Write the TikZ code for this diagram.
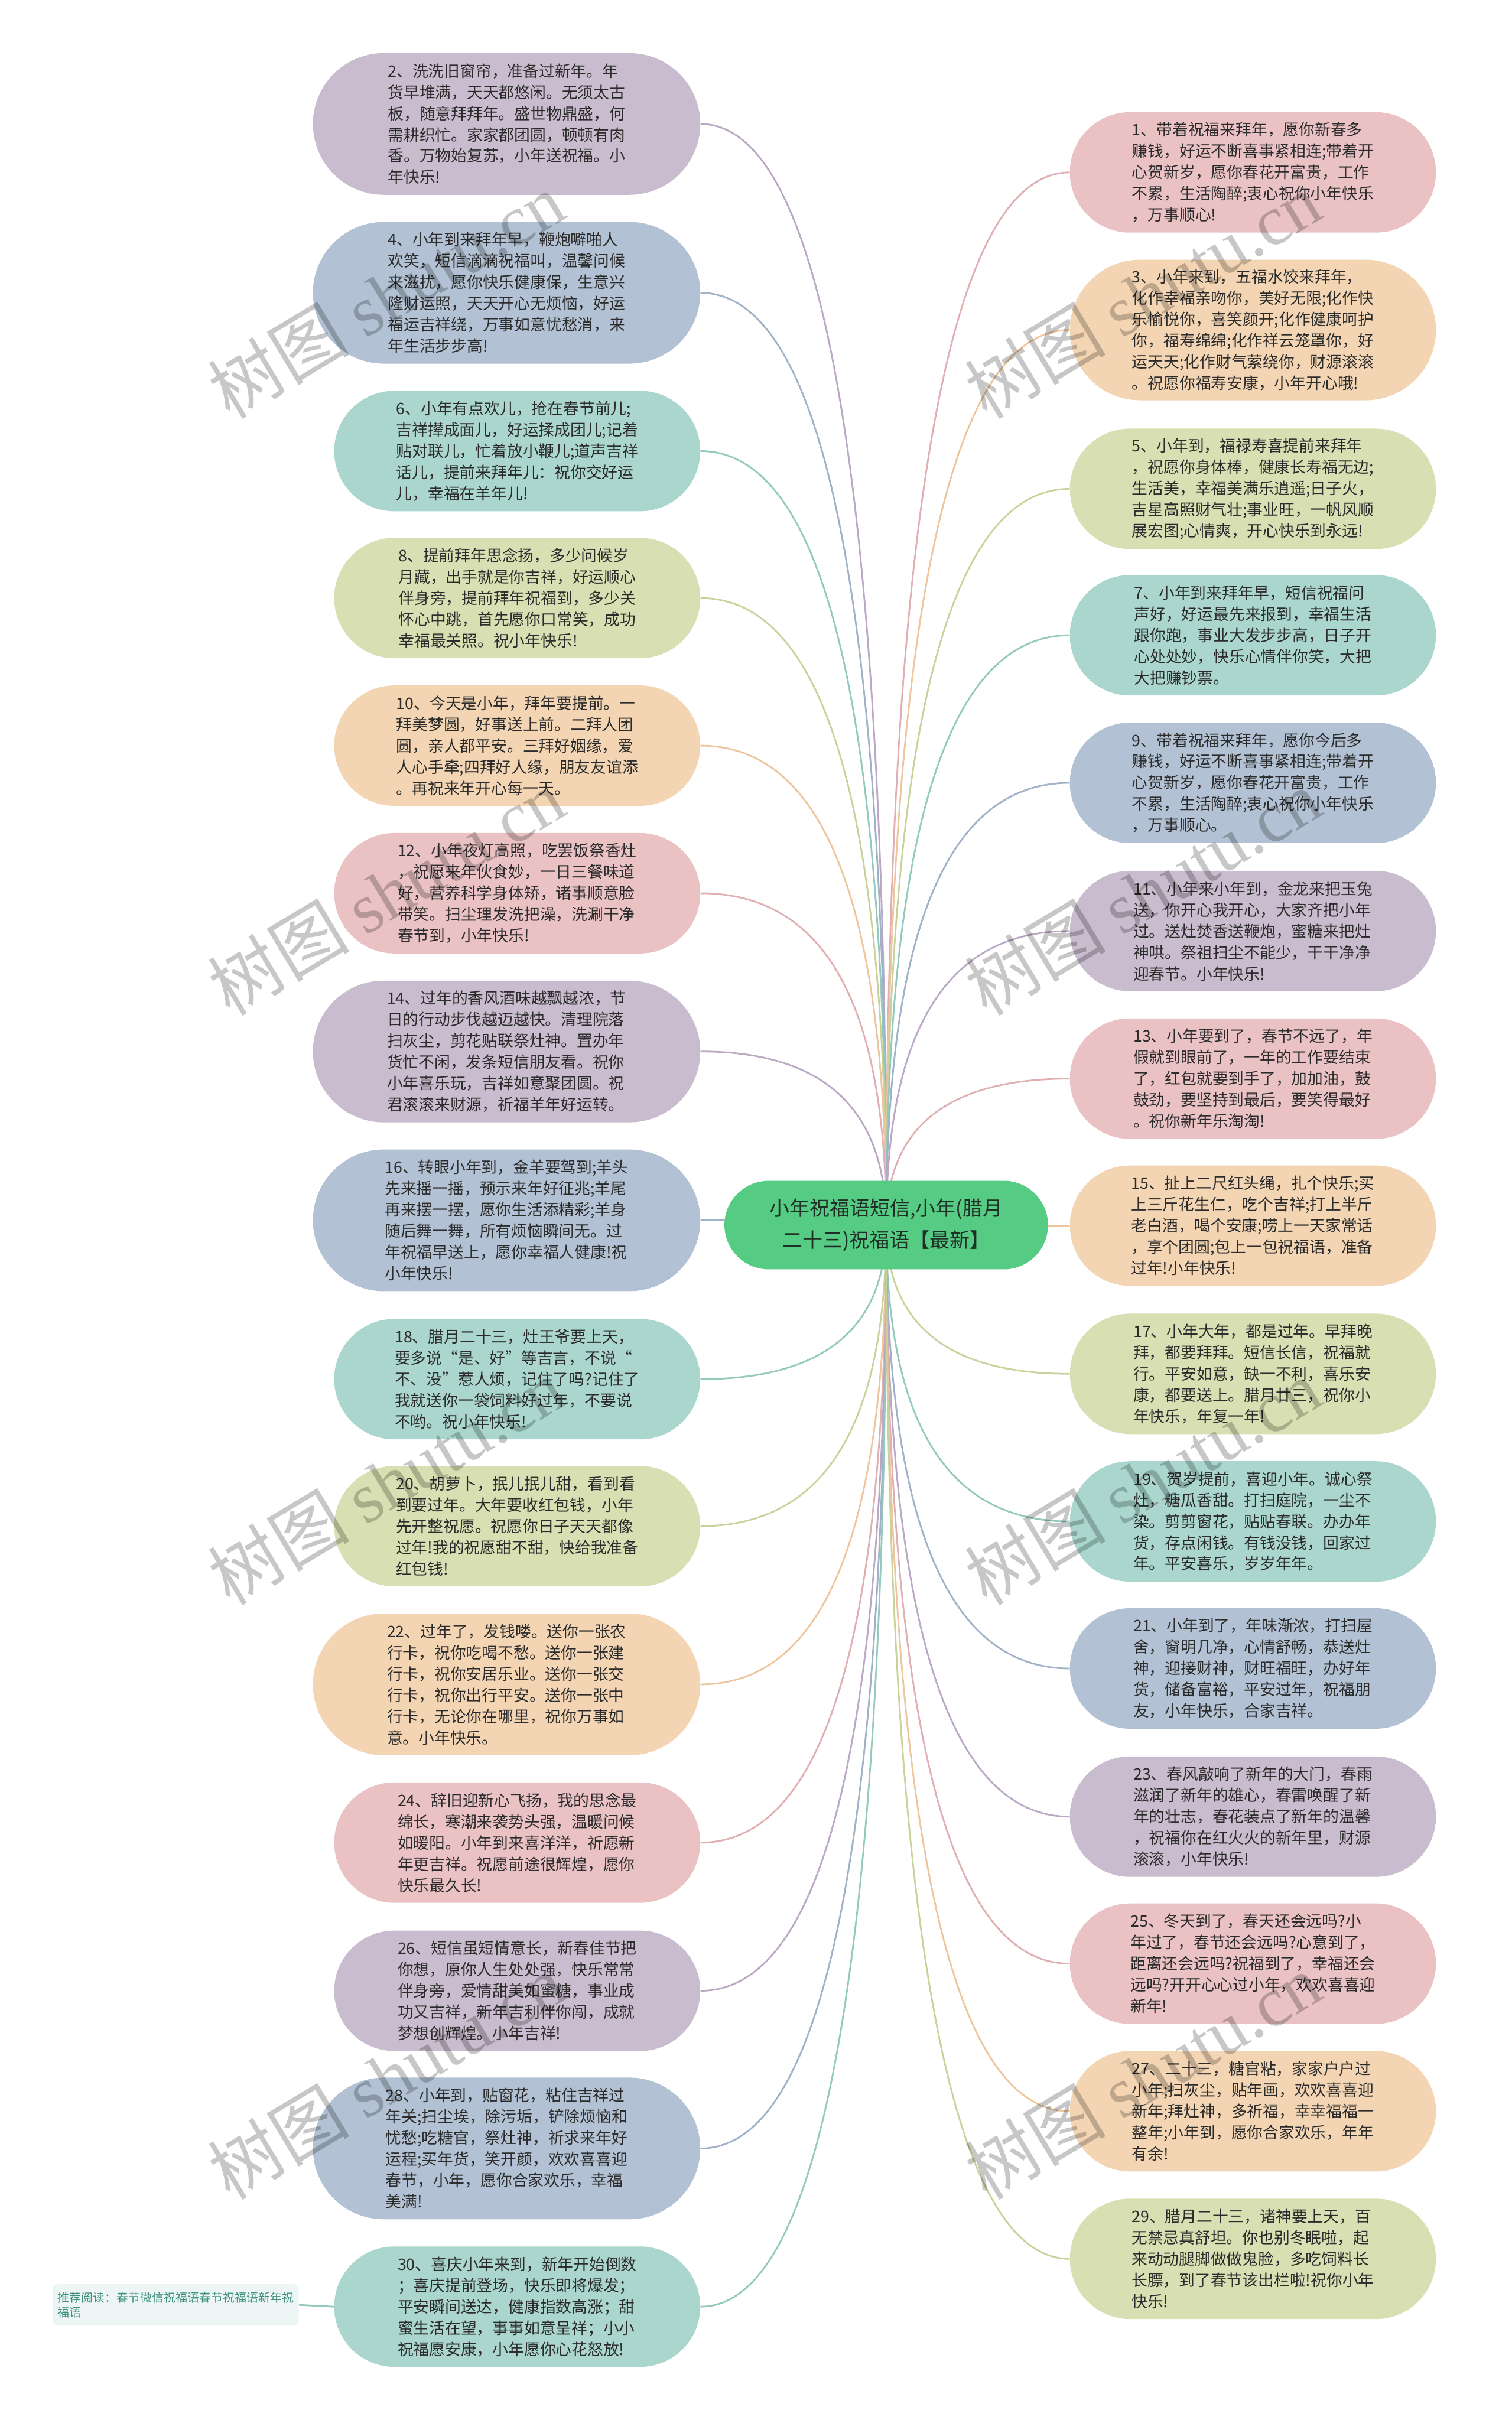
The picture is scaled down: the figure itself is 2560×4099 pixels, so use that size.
\documentclass[tikz,border=0pt]{standalone}
\usepackage{fontspec}
\setmainfont{Noto Sans CJK SC}
\newfontfamily\wmfont{Liberation Serif}
\usetikzlibrary{calc}
\pgfdeclarelayer{bg}
\pgfsetlayers{bg,main}
\definecolor{txt}{HTML}{2B2B2B}
\definecolor{fpur}{HTML}{C9BCCE}\definecolor{lpur}{HTML}{BBA8C4}
\definecolor{fblu}{HTML}{B2C1D3}\definecolor{lblu}{HTML}{A0B2C8}
\definecolor{ftea}{HTML}{AAD6CD}\definecolor{ltea}{HTML}{94C9BD}
\definecolor{foli}{HTML}{D8DFB2}\definecolor{loli}{HTML}{CAD29C}
\definecolor{fpea}{HTML}{F3D5B4}\definecolor{lpea}{HTML}{EDC69E}
\definecolor{fpin}{HTML}{EAC2C4}\definecolor{lpin}{HTML}{E0AFB2}
\definecolor{cgreen}{HTML}{55CB84}
\definecolor{ctext}{HTML}{1F2F25}
\definecolor{notefill}{HTML}{EEF6F5}
\definecolor{notetext}{HTML}{3D8F7E}
\tikzset{
  leaf/.style={draw=none, text=txt, align=left, inner sep=0pt,
    font=\fontsize{13.4pt}{18pt}\selectfont},
  wide/.style={leaf, minimum width=328pt, minimum height=120pt, rounded corners=60pt},
  narrow/.style={leaf, minimum width=310pt, minimum height=102pt, rounded corners=51pt},
  tall/.style={leaf, minimum width=310pt, minimum height=119pt, rounded corners=59.5pt},
  hub/.style={fill=cgreen, text=ctext, align=center, inner sep=0pt,
    minimum width=274pt, minimum height=75pt, rounded corners=37.5pt,
    font=\fontsize{17pt}{27pt}\selectfont},
  notebox/.style={fill=notefill, text=notetext, align=left, inner sep=0pt,
    minimum width=208.5pt, minimum height=35pt, rounded corners=4pt,
    font=\fontsize{10pt}{12.75pt}\selectfont},
  link/.style={line width=1.4pt},
  wmark/.style={text=black, opacity=0.22, rotate=31,
    font=\fontsize{60pt}{60pt}\selectfont}
}
\newcommand{\mmlink}[3]{%
  \coordinate (k) at (c.center |- #1.#2);
  \draw[link, color=#3] (c.center) .. controls ($(c.center)!0.6667!(k)$) and ($(#1.#2)!0.6667!(k)$) .. (#1.#2);}
\begin{document}
\begin{tikzpicture}[x=0.5pt, y=-0.5pt]
\begin{pgfonlayer}{bg}
\fill[white] (0,0) rectangle (2560,4099);
\end{pgfonlayer}
\useasboundingbox (0,0) rectangle (2560,4099);

\node[hub] (c) at (1501,2075) {小年祝福语短信,小年(腊月\\二十三)祝福语【最新】};

% left column
\node[wide, fill=fpur] (n2) at (858,210) {2、洗洗旧窗帘，准备过新年。年\\货早堆满，天天都悠闲。无须太古\\板，随意拜拜年。盛世物鼎盛，何\\需耕织忙。家家都团圆，顿顿有肉\\香。万物始复苏，小年送祝福。小\\年快乐!};
\node[wide, fill=fblu] (n4) at (858,496) {4、小年到来拜年早，鞭炮噼啪人\\欢笑，短信滴滴祝福叫，温馨问候\\来滋扰，愿你快乐健康保，生意兴\\隆财运照，天天开心无烦恼，好运\\福运吉祥绕，万事如意忧愁消，来\\年生活步步高!};
\node[narrow, fill=ftea] (n6) at (876,764) {6、小年有点欢儿，抢在春节前儿;\\吉祥撵成面儿，好运揉成团儿;记着\\贴对联儿，忙着放小鞭儿;道声吉祥\\话儿，提前来拜年儿：祝你交好运\\儿，幸福在羊年儿!};
\node[narrow, fill=foli] (n8) at (876,1013) {8、提前拜年思念扬，多少问候岁\\月藏，出手就是你吉祥，好运顺心\\伴身旁，提前拜年祝福到，多少关\\怀心中跳，首先愿你口常笑，成功\\幸福最关照。祝小年快乐!};
\node[narrow, fill=fpea] (n10) at (876,1263) {10、今天是小年，拜年要提前。一\\拜美梦圆，好事送上前。二拜人团\\圆，亲人都平安。三拜好姻缘，爱\\人心手牵;四拜好人缘，朋友友谊添\\。再祝来年开心每一天。};
\node[narrow, fill=fpin] (n12) at (876,1513) {12、小年夜灯高照，吃罢饭祭香灶\\，祝愿来年伙食妙，一日三餐味道\\好，营养科学身体矫，诸事顺意脸\\带笑。扫尘理发洗把澡，洗涮干净\\春节到，小年快乐!};
\node[wide, fill=fpur] (n14) at (858,1781) {14、过年的香风酒味越飘越浓，节\\日的行动步伐越迈越快。清理院落\\扫灰尘，剪花贴联祭灶神。置办年\\货忙不闲，发条短信朋友看。祝你\\小年喜乐玩，吉祥如意聚团圆。祝\\君滚滚来财源，祈福羊年好运转。};
\node[wide, fill=fblu] (n16) at (858,2067) {16、转眼小年到，金羊要驾到;羊头\\先来摇一摇，预示来年好征兆;羊尾\\再来摆一摆，愿你生活添精彩;羊身\\随后舞一舞，所有烦恼瞬间无。过\\年祝福早送上，愿你幸福人健康!祝\\小年快乐!};
\node[narrow, fill=ftea] (n18) at (876,2336) {18、腊月二十三，灶王爷要上天，\\要多说“是、好”等吉言，不说“\\不、没”惹人烦，记住了吗?记住了\\我就送你一袋饲料好过年，不要说\\不哟。祝小年快乐!};
\node[narrow, fill=foli] (n20) at (876,2585) {20、胡萝卜，抿儿抿儿甜，看到看\\到要过年。大年要收红包钱，小年\\先开整祝愿。祝愿你日子天天都像\\过年!我的祝愿甜不甜，快给我准备\\红包钱!};
\node[wide, fill=fpea] (n22) at (858,2853) {22、过年了，发钱喽。送你一张农\\行卡，祝你吃喝不愁。送你一张建\\行卡，祝你安居乐业。送你一张交\\行卡，祝你出行平安。送你一张中\\行卡，无论你在哪里，祝你万事如\\意。小年快乐。};
\node[narrow, fill=fpin] (n24) at (876,3121) {24、辞旧迎新心飞扬，我的思念最\\绵长，寒潮来袭势头强，温暖问候\\如暖阳。小年到来喜洋洋，祈愿新\\年更吉祥。祝愿前途很辉煌，愿你\\快乐最久长!};
\node[narrow, fill=fpur] (n26) at (876,3372) {26、短信虽短情意长，新春佳节把\\你想，原你人生处处强，快乐常常\\伴身旁，爱情甜美如蜜糖，事业成\\功又吉祥，新年吉利伴你闯，成就\\梦想创辉煌。小年吉祥!};
\node[wide, fill=fblu] (n28) at (858,3639) {28、小年到，贴窗花，粘住吉祥过\\年关;扫尘埃，除污垢，铲除烦恼和\\忧愁;吃糖官，祭灶神，祈求来年好\\运程;买年货，笑开颜，欢欢喜喜迎\\春节，小年，愿你合家欢乐，幸福\\美满!};
\node[narrow, fill=ftea] (n30) at (876,3907) {30、喜庆小年来到，新年开始倒数\\；喜庆提前登场，快乐即将爆发；\\平安瞬间送达，健康指数高涨；甜\\蜜生活在望，事事如意呈祥；小小\\祝福愿安康，小年愿你心花怒放!};

% right column
\node[narrow, fill=fpin] (n1) at (2122,292) {1、带着祝福来拜年，愿你新春多\\赚钱，好运不断喜事紧相连;带着开\\心贺新岁，愿你春花开富贵，工作\\不累，生活陶醉;衷心祝你小年快乐\\，万事顺心!};
\node[tall, fill=fpea] (n3) at (2122,559) {3、小年来到，五福水饺来拜年，\\化作幸福亲吻你，美好无限;化作快\\乐愉悦你，喜笑颜开;化作健康呵护\\你，福寿绵绵;化作祥云笼罩你，好\\运天天;化作财气萦绕你，财源滚滚\\。祝愿你福寿安康，小年开心哦!};
\node[narrow, fill=foli] (n5) at (2122,828) {5、小年到，福禄寿喜提前来拜年\\，祝愿你身体棒，健康长寿福无边;\\生活美，幸福美满乐逍遥;日子火，\\吉星高照财气壮;事业旺，一帆风顺\\展宏图;心情爽，开心快乐到永远!};
\node[narrow, fill=ftea] (n7) at (2122,1076) {7、小年到来拜年早，短信祝福问\\声好，好运最先来报到，幸福生活\\跟你跑，事业大发步步高，日子开\\心处处妙，快乐心情伴你笑，大把\\大把赚钞票。};
\node[narrow, fill=fblu] (n9) at (2122,1326) {9、带着祝福来拜年，愿你今后多\\赚钱，好运不断喜事紧相连;带着开\\心贺新岁，愿你春花开富贵，工作\\不累，生活陶醉;衷心祝你小年快乐\\，万事顺心。};
\node[narrow, fill=fpur] (n11) at (2122,1577) {11、小年来小年到，金龙来把玉兔\\送，你开心我开心，大家齐把小年\\过。送灶焚香送鞭炮，蜜糖来把灶\\神哄。祭祖扫尘不能少，干干净净\\迎春节。小年快乐!};
\node[narrow, fill=fpin] (n13) at (2122,1827) {13、小年要到了，春节不远了，年\\假就到眼前了，一年的工作要结束\\了，红包就要到手了，加加油，鼓\\鼓劲，要坚持到最后，要笑得最好\\。祝你新年乐淘淘!};
\node[narrow, fill=fpea] (n15) at (2122,2076) {15、扯上二尺红头绳，扎个快乐;买\\上三斤花生仁，吃个吉祥;打上半斤\\老白酒，喝个安康;唠上一天家常话\\，享个团圆;包上一包祝福语，准备\\过年!小年快乐!};
\node[narrow, fill=foli] (n17) at (2122,2327) {17、小年大年，都是过年。早拜晚\\拜，都要拜拜。短信长信，祝福就\\行。平安如意，缺一不利，喜乐安\\康，都要送上。腊月廿三，祝你小\\年快乐，年复一年!};
\node[narrow, fill=ftea] (n19) at (2122,2577) {19、贺岁提前，喜迎小年。诚心祭\\灶，糖瓜香甜。打扫庭院，一尘不\\染。剪剪窗花，贴贴春联。办办年\\货，存点闲钱。有钱没钱，回家过\\年。平安喜乐，岁岁年年。};
\node[narrow, fill=fblu] (n21) at (2122,2826) {21、小年到了，年味渐浓，打扫屋\\舍，窗明几净，心情舒畅，恭送灶\\神，迎接财神，财旺福旺，办好年\\货，储备富裕，平安过年，祝福朋\\友，小年快乐，合家吉祥。};
\node[narrow, fill=fpur] (n23) at (2122,3077) {23、春风敲响了新年的大门，春雨\\滋润了新年的雄心，春雷唤醒了新\\年的壮志，春花装点了新年的温馨\\，祝福你在红火火的新年里，财源\\滚滚，小年快乐!};
\node[narrow, fill=fpin] (n25) at (2122,3326) {25、冬天到了，春天还会远吗?小\\年过了，春节还会远吗?心意到了，\\距离还会远吗?祝福到了，幸福还会\\远吗?开开心心过小年，欢欢喜喜迎\\新年!};
\node[narrow, fill=fpea] (n27) at (2122,3576) {27、二十三，糖官粘，家家户户过\\小年;扫灰尘，贴年画，欢欢喜喜迎\\新年;拜灶神，多祈福，幸幸福福一\\整年;小年到，愿你合家欢乐，年年\\有余!};
\node[narrow, fill=foli] (n29) at (2122,3826) {29、腊月二十三，诸神要上天，百\\无禁忌真舒坦。你也别冬眠啦，起\\来动动腿脚做做鬼脸，多吃饲料长\\长膘，到了春节该出栏啦!祝你小年\\快乐!};

\node[notebox] (rec) at (297.5,3904) {推荐阅读：春节微信祝福语春节祝福语新年祝\\福语};

\begin{pgfonlayer}{bg}
\foreach \n/\col in {n2/lpur,n4/lblu,n6/ltea,n8/loli,n10/lpea,n12/lpin,n14/lpur,n16/lblu,n18/ltea,n20/loli,n22/lpea,n24/lpin,n26/lpur,n28/lblu,n30/ltea}{
  \mmlink{\n}{east}{\col}
}
\foreach \n/\col in {n1/lpin,n3/lpea,n5/loli,n7/ltea,n9/lblu,n11/lpur,n13/lpin,n15/lpea,n17/loli,n19/ltea,n21/lblu,n23/lpur,n25/lpin,n27/lpea,n29/loli}{
  \mmlink{\n}{west}{\col}
}
\draw[link, color=ltea] (rec.east) -- (n30.west);
\end{pgfonlayer}

% watermarks
\foreach \px/\py [count=\i] in {654/500,1935/500,654/1511,1935/1511,654/2510,1935/2510,654/3517,1935/3517}{
  \node[wmark] (wm\i) at (\px,\py) {树图 {\wmfont shutu.cn}};
}
\end{tikzpicture}
\end{document}
